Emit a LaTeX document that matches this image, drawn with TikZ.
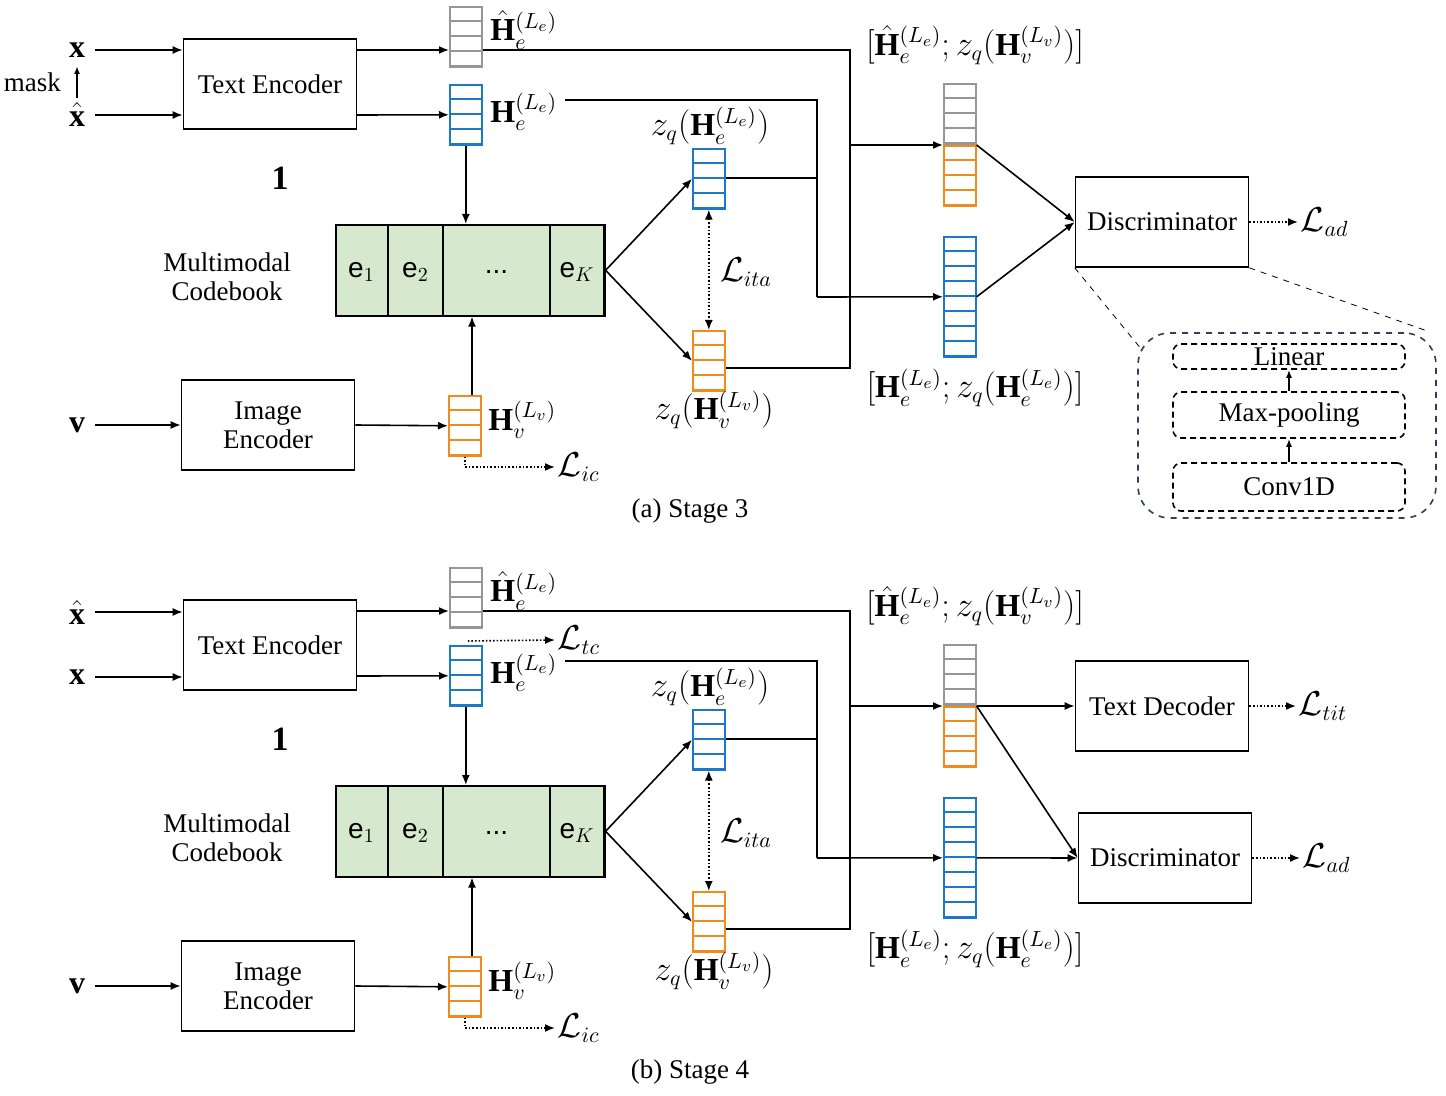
\documentclass[tikz,border=0pt]{standalone}
\usepackage{amsmath}
\usepackage{amssymb}
\usepackage{fontspec}
\setmainfont{Liberation Serif}
\setsansfont{Liberation Sans}
\usetikzlibrary{arrows.meta}

\definecolor{cbgreen}{RGB}{214,232,206}
\definecolor{vblue}{RGB}{30,120,200}
\definecolor{vorange}{RGB}{240,140,30}
\definecolor{vgray}{RGB}{150,150,150}
\definecolor{zoomc}{RGB}{50,60,90}

\tikzset{
  blk/.style={draw, thick, minimum width=86.5pt, minimum height=45pt, inner sep=0pt, align=center},
  arr/.style={thick, -{Latex[length=5pt,width=4pt]}},
  dotarr/.style={thick, densely dotted, -{Latex[length=5pt,width=4pt]}},
  ln/.style={thick},
  lyr/.style={draw, thick, densely dashed, rounded corners=4pt, minimum width=116pt, inner sep=0pt},
  mlbl/.style={font=\fontsize{16}{18}\selectfont, inner sep=1pt},
}

% vector of cells: name, x, top y, cells, colour
\newcommand{\cellvec}[5]{%
  \node[draw=#5, thick, anchor=north west, minimum width=16pt, minimum height=#4*7.5pt, inner sep=0pt] (#1) at (#2,#3) {};
  \foreach \k in {1,...,#4} {\draw[#5, thick] (#2,#3+15*\k) -- ++(32,0);}
}

\begin{document}
\begin{tikzpicture}[x=0.5pt, y=-0.5pt, font=\fontsize{13.5}{15.5}\selectfont]
  \useasboundingbox (0,0) rectangle (1446,1096);

  % common parts of both stages
  \foreach \s/\dy/\st in {a/0/3,b/561/4} {
  \begin{scope}[shift={(0,\dy)}]
    \node[blk] (te\s) at (270,84) {Text Encoder};
    \node[blk] (ie\s) at (268,425) {Image\\[-1pt]Encoder};
    \node[mlbl] (v\s) at (77,425) {$\mathbf{v}$};
    \coordinate (vin\s) at (95,425);
    \draw[arr] (vin\s) -- (ie\s.west);
    \node[font=\fontsize{17}{19}\selectfont] at (280,178) {\textbf{1}};
    \node[align=center] at (227,277) {Multimodal\\[-1pt]Codebook};

    % codebook
    \node[draw, thick, fill=cbgreen, anchor=north west, minimum width=134.5pt, minimum height=45.5pt, inner sep=0pt] (cb\s) at (335,224) {};
    \foreach \xa/\xb/\t in {335/388/{e$_1$}, 388/443/{e$_2$}, 443/550/{...}, 550/604/{e$_K$}} {
      \draw[thick] (\xb,224) -- (\xb,315);
      \node[font=\sffamily\fontsize{14}{16}\selectfont] at ({(\xa+\xb)/2},272) {\t};
    }

    % vectors
    \cellvec{hh\s}{449}{6}{4}{vgray}
    \cellvec{he\s}{449}{84}{4}{vblue}
    \cellvec{hv\s}{448}{395}{4}{vorange}
    \cellvec{ze\s}{692}{148}{4}{vblue}
    \cellvec{zv\s}{692}{330}{4}{vorange}
    \cellvec{cg\s}{943}{83}{4}{vgray}
    \cellvec{co\s}{943}{145}{4}{vorange}
    \cellvec{cv\s}{943}{236}{8}{vblue}

    \node[mlbl, anchor=west] at (488,30) {$\hat{\mathbf{H}}_e^{(L_e)}$};
    \node[mlbl, anchor=west] at (488,112) {$\mathbf{H}_e^{(L_e)}$};
    \node[mlbl, anchor=west] at (486,420) {$\mathbf{H}_v^{(L_v)}$};
    \node[mlbl] at (710,126) {$z_q(\mathbf{H}_e^{(L_e)})$};
    \node[mlbl] at (714,410) {$z_q(\mathbf{H}_v^{(L_v)})$};
    \node[mlbl] at (975,45) {$[\hat{\mathbf{H}}_e^{(L_e)};z_q(\mathbf{H}_v^{(L_v)})]$};
    \node[mlbl] at (975,388) {$[\mathbf{H}_e^{(L_e)};z_q(\mathbf{H}_e^{(L_e)})]$};

    % encoders to vectors
    \draw[arr] (357,50) -- (hh\s.west |- 0,50);
    \draw[arr] (357,115) -- (he\s.west);
    \draw[arr] (ie\s.east) -- (hv\s.west);
    \draw[arr] (he\s.south) -- (cb\s.north -| he\s.south);
    \draw[arr] (hv\s.north -| 472,0) -- (cb\s.south -| 472,0);
    \draw[dotarr] (hv\s.south) |- (555,467) node[mlbl, right] {$\mathcal{L}_{ic}$};

    % codebook to quantised vectors
    \draw[arr] (cb\s.east) -- (ze\s.west);
    \draw[arr] (cb\s.east) -- (zv\s.west);
    \draw[thick, densely dotted, {Latex[length=5pt,width=4pt]}-{Latex[length=5pt,width=4pt]}] (ze\s.south) -- (zv\s.north);
    \node[mlbl] at (746,272) {$\mathcal{L}_{ita}$};

    % routing to the concatenated vectors
    \draw[ln] (hh\s.east |- 0,50) -- (850,50) -- (850,368) -- (zv\s.east |- 0,368);
    \draw[arr] (850,145) -- (co\s.north west);
    \draw[ln] (565,100) -- (817,100) -- (817,297);
    \draw[ln] (ze\s.east |- 0,178) -- (817,178);
    \draw[arr] (817,297) -- (cv\s.west);

    \node at (690,511) {(\s) Stage \st};
  \end{scope}
  }

  % stage 3 specifics
  \node[mlbl] (xa) at (77,50) {$\mathbf{x}$};
  \node[mlbl] (xha) at (77,115) {$\hat{\mathbf{x}}$};
  \coordinate (xina) at (95,50);
  \coordinate (xhina) at (95,115);
  \coordinate (mlo) at (77,98);
  \coordinate (mhi) at (77,66);
  \draw[arr] (xina) -- (tea.west |- xina);
  \draw[arr] (xhina) -- (tea.west |- xhina);
  \draw[thick, -{Latex[length=4pt,width=3pt]}] (mlo) -- (mhi);
  \node[left] at (68,82) {mask};

  \node[blk] (disa) at (1162,222) {Discriminator};
  \draw[arr] (coa.north east) -- (disa.west);
  \draw[arr] (cva.east) -- (disa.west);
  \draw[dotarr] (disa.east) -- (1298,222) node[mlbl, right] {$\mathcal{L}_{ad}$};

  % discriminator detail
  \node[draw=zoomc, thick, dashed, rounded corners=16pt, minimum width=149pt, minimum height=92.5pt] (zoom) at (1287,425.5) {};
  \node[lyr, minimum height=12.5pt] (lin) at (1289,356.5) {Linear};
  \node[lyr, minimum height=23pt] (mp) at (1289,415) {Max-pooling};
  \node[lyr, minimum height=24pt] (conv) at (1289,487) {Conv1D};
  \draw[thick, -{Latex[length=4pt,width=3pt]}] (conv.north) -- (mp.south);
  \draw[thick, -{Latex[length=4pt,width=3pt]}] (mp.north) -- (lin.south);
  \draw[dashed] (disa.south west) -- (1142,350);
  \draw[dashed] (disa.south east) -- (1430,332);

  % stage 4 specifics
  \node[mlbl] (xhb) at (77,612) {$\hat{\mathbf{x}}$};
  \node[mlbl] (xb) at (77,677) {$\mathbf{x}$};
  \coordinate (xhinb) at (95,612);
  \coordinate (xinb) at (95,677);
  \draw[arr] (xhinb) -- (teb.west |- xhinb);
  \draw[arr] (xinb) -- (teb.west |- xinb);
  \draw[dotarr] (heb.north) ++(2,-4) -- (555,640) node[mlbl, right] {$\mathcal{L}_{tc}$};

  \node[blk] (tdb) at (1162,706) {Text Decoder};
  \node[blk] (disb) at (1165,858) {Discriminator};
  \draw[arr] (cob.north east) -- (tdb.west);
  \draw[arr] (cob.north east) -- (disb.west);
  \draw[arr] (cvb.east) -- (disb.west);
  \draw[dotarr] (tdb.east) -- (1296,706) node[mlbl, right] {$\mathcal{L}_{tit}$};
  \draw[dotarr] (disb.east) -- (1300,858) node[mlbl, right] {$\mathcal{L}_{ad}$};
\end{tikzpicture}
\end{document}
